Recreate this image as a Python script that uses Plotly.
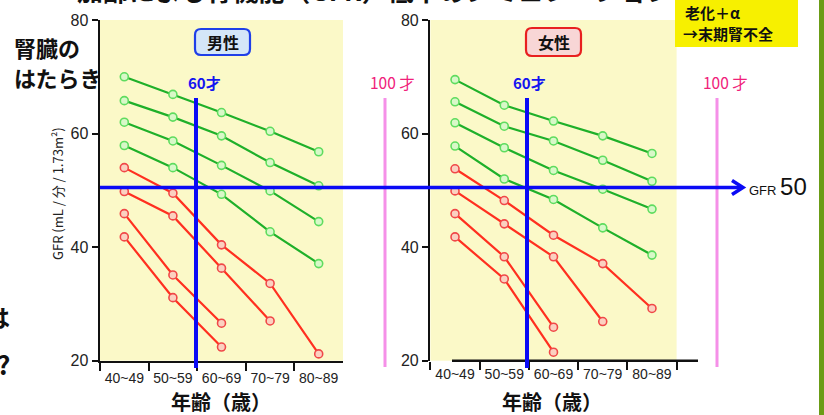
import plotly.graph_objects as go

W, H = 824, 415

# ---------------- data ----------------
ages = ["40~49", "50~59", "60~69", "70~79", "80~89"]
yticks = [20, 40, 60, 80]

male_green_1 = [70.0, 66.9, 63.7, 60.4, 56.8]
male_green_2 = [65.8, 62.9, 59.6, 54.9, 50.8]
male_green_3 = [62.0, 58.7, 54.4, 49.9, 44.5]
male_green_4 = [57.9, 54.0, 49.3, 42.7, 37.1]
male_red_1 = [54.0, 49.5, 40.4, 33.6, 21.2]
male_red_2 = [49.8, 45.5, 36.3, 27.0]
male_red_3 = [45.9, 35.1, 26.6]
male_red_4 = [41.8, 31.1, 22.4]

female_green_1 = [69.5, 65.0, 62.2, 59.6, 56.5]
female_green_2 = [65.6, 61.3, 58.7, 55.3, 51.6]
female_green_3 = [61.9, 57.5, 53.5, 50.2, 46.7]
female_green_4 = [57.8, 52.0, 48.4, 43.4, 38.6]
female_red_1 = [53.8, 48.2, 42.1, 37.1, 29.2]
female_red_2 = [49.9, 44.1, 38.3, 26.9]
female_red_3 = [45.9, 38.3, 25.9]
female_red_4 = [41.8, 34.4, 21.5]

gfr_line = 50.5
male_greens = [male_green_1, male_green_2, male_green_3, male_green_4]
male_reds = [male_red_1, male_red_2, male_red_3, male_red_4]
female_greens = [female_green_1, female_green_2, female_green_3, female_green_4]
female_reds = [female_red_1, female_red_2, female_red_3, female_red_4]


def px(x):
    return x / W


def py(y):
    return 1 - y / H


JP = "Noto Sans CJK JP"
LAT = "Liberation Sans, Arial"

GREEN_LINE = "#1fb02a"
GREEN_MK = "#5fdc5f"
RED_LINE = "#ff3020"
RED_MK = "#f04848"

fig = go.Figure()


def add_series(vals, color, mkcolor, fill, xa, ya):
    fig.add_trace(go.Scatter(
        x=ages[:len(vals)], y=vals, xaxis=xa, yaxis=ya, mode="lines+markers",
        line=dict(color=color, width=2.2),
        marker=dict(symbol="circle", size=8, color=fill,
                    line=dict(color=mkcolor, width=1.6)),
        showlegend=False, hoverinfo="skip"))


for v in male_greens:
    add_series(v, GREEN_LINE, GREEN_MK, "#d8f8c8", "x", "y")
for v in male_reds:
    add_series(v, RED_LINE, RED_MK, "#fbd0c0", "x", "y")
for v in female_greens:
    add_series(v, GREEN_LINE, GREEN_MK, "#d8f8c8", "x2", "y2")
for v in female_reds:
    add_series(v, RED_LINE, RED_MK, "#fbd0c0", "x2", "y2")

ydom = [py(360.7), py(20)]
xcommon = dict(type="category", categoryarray=ages, range=[-0.5, 4.5],
               ticks="outside", tickson="boundaries", ticklen=8, tickwidth=2,
               tickcolor="#111", showgrid=False, zeroline=False, automargin=False,
               tickangle=0, ticklabelstandoff=3,
               tickfont=dict(family=LAT, size=14, color="#222"),
               fixedrange=True)
ycommon = dict(range=[20, 80], tickvals=yticks, ticks="outside", ticklen=6,
               tickwidth=2, tickcolor="#111", showline=True, linecolor="#111",
               linewidth=2.5, showgrid=False, zeroline=False, automargin=False,
               tickfont=dict(family=LAT, size=16, color="#222"), domain=ydom)

fig.update_layout(
    width=W, height=H, autosize=False,
    margin=dict(l=0, r=0, t=0, b=0, pad=0),
    paper_bgcolor="white", plot_bgcolor="#fbf9c8",
    xaxis=dict(domain=[px(100), px(343)], anchor="y", showline=True,
               linecolor="#111", linewidth=2.5, **xcommon),
    yaxis=dict(anchor="x", **ycommon),
    xaxis2=dict(domain=[px(430.4), px(676.6)], anchor="y2", showline=False,
                **xcommon),
    yaxis2=dict(anchor="x2", **ycommon),
)

shapes = []
ann = []

# right panel x-axis line (offset as in reference)
shapes.append(dict(type="line", xref="paper", yref="paper", x0=px(452), x1=px(698),
                   y0=py(360.7), y1=py(360.7), line=dict(color="#111", width=2.5)))


def rr(x0, y0, x1, y1, r):
    return (f"M {px(x0+r)},{py(y0)} L {px(x1-r)},{py(y0)} "
            f"Q {px(x1)},{py(y0)} {px(x1)},{py(y0+r)} L {px(x1)},{py(y1-r)} "
            f"Q {px(x1)},{py(y1)} {px(x1-r)},{py(y1)} L {px(x0+r)},{py(y1)} "
            f"Q {px(x0)},{py(y1)} {px(x0)},{py(y1-r)} L {px(x0)},{py(y0+r)} "
            f"Q {px(x0)},{py(y0)} {px(x0+r)},{py(y0)} Z")


# sex boxes
shapes.append(dict(type="path", xref="paper", yref="paper", path=rr(195, 29, 250, 55, 6),
                   fillcolor="#d4e6f8", line=dict(color="#1f3fe8", width=2.2), layer="above"))
shapes.append(dict(type="path", xref="paper", yref="paper", path=rr(526, 28, 581, 56, 6),
                   fillcolor="#f8d6d6", line=dict(color="#e82020", width=2.2), layer="above"))
ann.append(dict(text="<b>男性</b>", x=px(222.5), y=py(42), font=dict(family=JP, size=16, color="#111")))
ann.append(dict(text="<b>女性</b>", x=px(553.5), y=py(42), font=dict(family=JP, size=16, color="#111")))

# pink 100-year lines
for xp in (385, 717):
    shapes.append(dict(type="line", xref="paper", yref="paper", x0=px(xp), x1=px(xp),
                       y0=py(98), y1=py(367), line=dict(color="#f590e8", width=3), layer="above"))
# blue 60-year lines
for xp in (196, 527):
    shapes.append(dict(type="line", xref="paper", yref="paper", x0=px(xp), x1=px(xp),
                       y0=py(98), y1=py(368), line=dict(color="#0a0af5", width=4), layer="above"))

# GFR 50 horizontal arrow
shapes.append(dict(type="line", xref="paper", yref="y", x0=px(100), x1=px(742),
                   y0=gfr_line, y1=gfr_line, line=dict(color="#0a0af5", width=3.5), layer="above"))
ya = 360.7 - (gfr_line - 20) * (340.7 / 60)
shapes.append(dict(type="path", xref="paper", yref="paper",
                   path=f"M {px(732)},{py(ya-7)} L {px(743)},{py(ya)} L {px(732)},{py(ya+7)}",
                   line=dict(color="#0a0af5", width=3.5), layer="above"))
ann.append(dict(text="GFR <span style='font-size:24px'>50</span>", x=px(747), y=py(ya - 1),
                xanchor="left", font=dict(family=LAT, size=13, color="#111")))

# 60 / 100 labels
for xp in (204, 529):
    ann.append(dict(text="<b>60才</b>", x=px(xp), y=py(82), font=dict(family=JP, size=15, color="#1414f0")))
for xp in (392, 725):
    ann.append(dict(text="100 才", x=px(xp), y=py(82), font=dict(family=JP, size=15.5, color="#f0207a")))

# axis titles
ann.append(dict(text="GFR (mL / 分 / 1.73m²)", x=px(57), y=py(194), textangle=-90,
                font=dict(family=JP, size=13, color="#222")))
for xp in (221, 552):
    ann.append(dict(text="<b>年齢（歳）</b>", x=px(xp), y=py(401),
                    font=dict(family=JP, size=20, color="#111")))

# left texts
ann.append(dict(text="<b>腎臓の</b>", x=px(12), y=py(47), xanchor="left",
                font=dict(family=JP, size=22, color="#111")))
ann.append(dict(text="<b>はたらき</b>", x=px(12), y=py(77), xanchor="left",
                font=dict(family=JP, size=22, color="#111")))
ann.append(dict(text="<b>は</b>", x=px(12), y=py(316), xanchor="right",
                font=dict(family=JP, size=24, color="#111")))
ann.append(dict(text="<b>?</b>", x=px(12), y=py(363), xanchor="right",
                font=dict(family=JP, size=26, color="#111")))

# yellow box top right
shapes.append(dict(type="rect", xref="paper", yref="paper", x0=px(675), x1=px(798),
                   y0=py(47), y1=py(0), fillcolor="#f7f000", line=dict(width=0), layer="below"))
ann.append(dict(text="<b>老化＋α</b>", x=px(683), y=py(13), xanchor="left",
                font=dict(family=JP, size=15, color="#111")))
ann.append(dict(text="<b>→末期腎不全</b>", x=px(681), y=py(34), xanchor="left",
                font=dict(family=JP, size=15, color="#111")))

# green bar at right edge
shapes.append(dict(type="rect", xref="paper", yref="paper", x0=px(819), x1=px(825),
                   y0=0, y1=1, fillcolor="#6b9c16", line=dict(width=0), layer="above"))

# cut-off title at the top
ann.append(dict(text="<b>加齢による腎機能（GFR）低下のシミュレーション</b>", x=px(375), y=py(-11),
                font=dict(family=JP, size=26, color="#111")))

for a in ann:
    a.setdefault("xref", "paper")
    a.setdefault("yref", "paper")
    a.setdefault("showarrow", False)
    a.setdefault("xanchor", "center")
    a.setdefault("yanchor", "middle")

fig.update_layout(shapes=shapes, annotations=ann)

fig.write_html("out.html", config={"displayModeBar": False, "staticPlot": True},
               post_script="document.body.style.margin='0';document.body.style.overflow='hidden';")
